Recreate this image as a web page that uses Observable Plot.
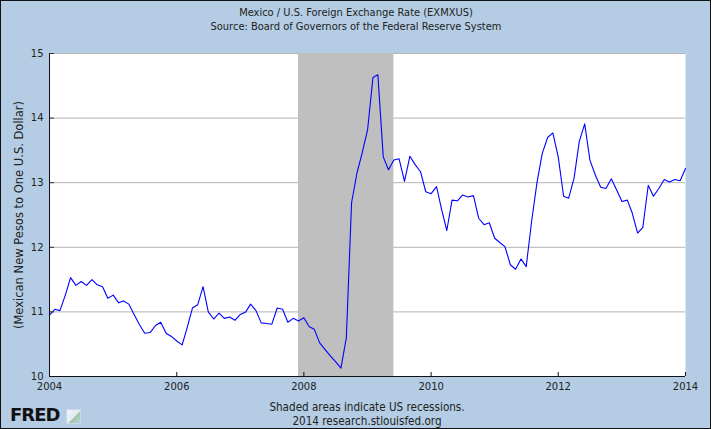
<!DOCTYPE html>
<html><head><meta charset="utf-8">
<script src="https://cdn.jsdelivr.net/npm/d3@7"></script>
<script src="https://cdn.jsdelivr.net/npm/@observablehq/plot@0.6"></script>
<style>
body{margin:0;background:#fff;}
#wrap{position:relative;width:711px;height:429px;background:#b4cde4;overflow:hidden;font-family:"DejaVu Sans Condensed","DejaVu Sans",sans-serif;color:#222;}
#wrap svg{position:absolute;left:0;top:0;}
.t{position:absolute;white-space:nowrap;font-size:11px;transform:translateX(-50%);}
.f{font-size:11.6px;}
#ylab{position:absolute;left:19px;top:215px;font-family:"DejaVu Sans",sans-serif;font-size:11.5px;white-space:nowrap;transform:translate(-50%,-50%) rotate(-90deg);}
#border{position:absolute;left:0;top:0;width:711px;height:429px;box-sizing:border-box;border:1px solid #111;pointer-events:none;}
#fred{position:absolute;left:10px;top:405px;font-family:"DejaVu Sans",sans-serif;font-weight:bold;font-size:18px;letter-spacing:-1px;color:#111;line-height:20px;}
#icon{position:absolute;left:66px;top:409px;width:13px;height:13px;background:linear-gradient(135deg,#f4f7fb 0%,#dfe8f2 55%,#9fc79a 56%,#b8d4e8 100%);border:1px solid #c9d6e3;}
</style></head>
<body>
<div id="wrap">
  <div class="t" style="left:356px;top:6px">Mexico / U.S. Foreign Exchange Rate (EXMXUS)</div>
  <div class="t" style="left:356px;top:20px">Source: Board of Governors of the Federal Reserve System</div>
  <div id="ylab">(Mexican New Pesos to One U.S. Dollar)</div>
  <div class="t f" style="left:367px;top:400px">Shaded areas indicate US recessions.</div>
  <div class="t f" style="left:367px;top:414px">2014 research.stlouisfed.org</div>
  <div id="fred">FRED</div>
  <div id="icon"></div>
  <div id="border"></div>
</div>
<script>
// Monthly averages, Jan 2004 .. Jan 2014 (MXN per USD)
const firstYear = 2004;
const rates2004 = [10.95, 11.04, 11.02, 11.26, 11.53, 11.41, 11.47, 11.41, 11.50, 11.42, 11.39, 11.21];
const rates2005 = [11.26, 11.14, 11.17, 11.12, 10.96, 10.80, 10.67, 10.68, 10.79, 10.84, 10.67, 10.62];
const rates2006 = [10.55, 10.49, 10.75, 11.06, 11.11, 11.39, 11.00, 10.89, 10.98, 10.90, 10.92, 10.87];
const rates2007 = [10.96, 11.00, 11.12, 11.02, 10.83, 10.82, 10.81, 11.06, 11.04, 10.84, 10.90, 10.86];
const rates2008 = [10.91, 10.77, 10.73, 10.52, 10.42, 10.32, 10.23, 10.13, 10.60, 12.69, 13.15, 13.46];
const rates2009 = [13.82, 14.63, 14.67, 13.40, 13.20, 13.35, 13.37, 13.02, 13.41, 13.28, 13.17, 12.86];
const rates2010 = [12.83, 12.94, 12.60, 12.26, 12.73, 12.72, 12.81, 12.78, 12.80, 12.45, 12.35, 12.38];
const rates2011 = [12.14, 12.07, 12.01, 11.73, 11.66, 11.82, 11.70, 12.40, 13.00, 13.45, 13.70, 13.77];
const rates2012 = [13.40, 12.79, 12.76, 13.07, 13.64, 13.91, 13.35, 13.12, 12.93, 12.91, 13.06, 12.89];
const rates2013 = [12.71, 12.73, 12.53, 12.22, 12.31, 12.96, 12.79, 12.91, 13.05, 13.01, 13.05, 13.03];
const rates2014 = [13.22];
const yTicks = [10, 11, 12, 13, 14, 15];
const xTickYears = [2004, 2006, 2008, 2010, 2012, 2014];
const recessionStart = ["2007-12-01"];
const recessionEnd = ["2009-06-01"];

const allRates = [rates2004, rates2005, rates2006, rates2007, rates2008, rates2009,
                  rates2010, rates2011, rates2012, rates2013, rates2014];
const data = [];
allRates.forEach((arr, yi) => arr.forEach((v, mi) => data.push({date: new Date(Date.UTC(firstYear + yi, mi, 1)), rate: v})));
const recessions = recessionStart.map((s, i) => ({start: new Date(s), end: new Date(recessionEnd[i])}));
const xTicks = xTickYears.map(y => new Date(Date.UTC(y, 0, 1)));
const xDomain = [xTicks[0], xTicks[xTicks.length - 1]];

const chart = Plot.plot({
  width: 711, height: 429,
  marginLeft: 49, marginRight: 26, marginTop: 53, marginBottom: 53,
  style: {background: "transparent", fontFamily: "DejaVu Sans, sans-serif", fontSize: "10px", color: "#222", overflow: "visible"},
  x: {type: "utc", domain: xDomain, label: null},
  y: {domain: [yTicks[0], yTicks[yTicks.length - 1]], label: null},
  marks: [
    Plot.frame({fill: "white", stroke: null}),
    Plot.gridY(yTicks.slice(1), {stroke: "#b4b4b4", strokeOpacity: 1}),
    Plot.rect(recessions, {x1: "start", x2: "end", fill: "#bfbfbf"}),
    Plot.line(data, {x: "date", y: "rate", stroke: "#0000ff", strokeWidth: 1.1}),
    Plot.axisY(yTicks, {anchor: "left", tickSize: -5, tickPadding: 11, stroke: "#333", tickFormat: d3.format("d"), label: null}),
    Plot.axisX(xTicks, {anchor: "bottom", tickSize: -4, tickPadding: 10, stroke: "#111", tickFormat: d3.utcFormat("%Y"), label: null}),
    Plot.ruleX([xDomain[0]], {stroke: "#111"}),
    Plot.ruleY([yTicks[0]], {stroke: "#111"})
  ]
});
document.getElementById("wrap").insertBefore(chart, document.getElementById("border"));
</script>
</body></html>
